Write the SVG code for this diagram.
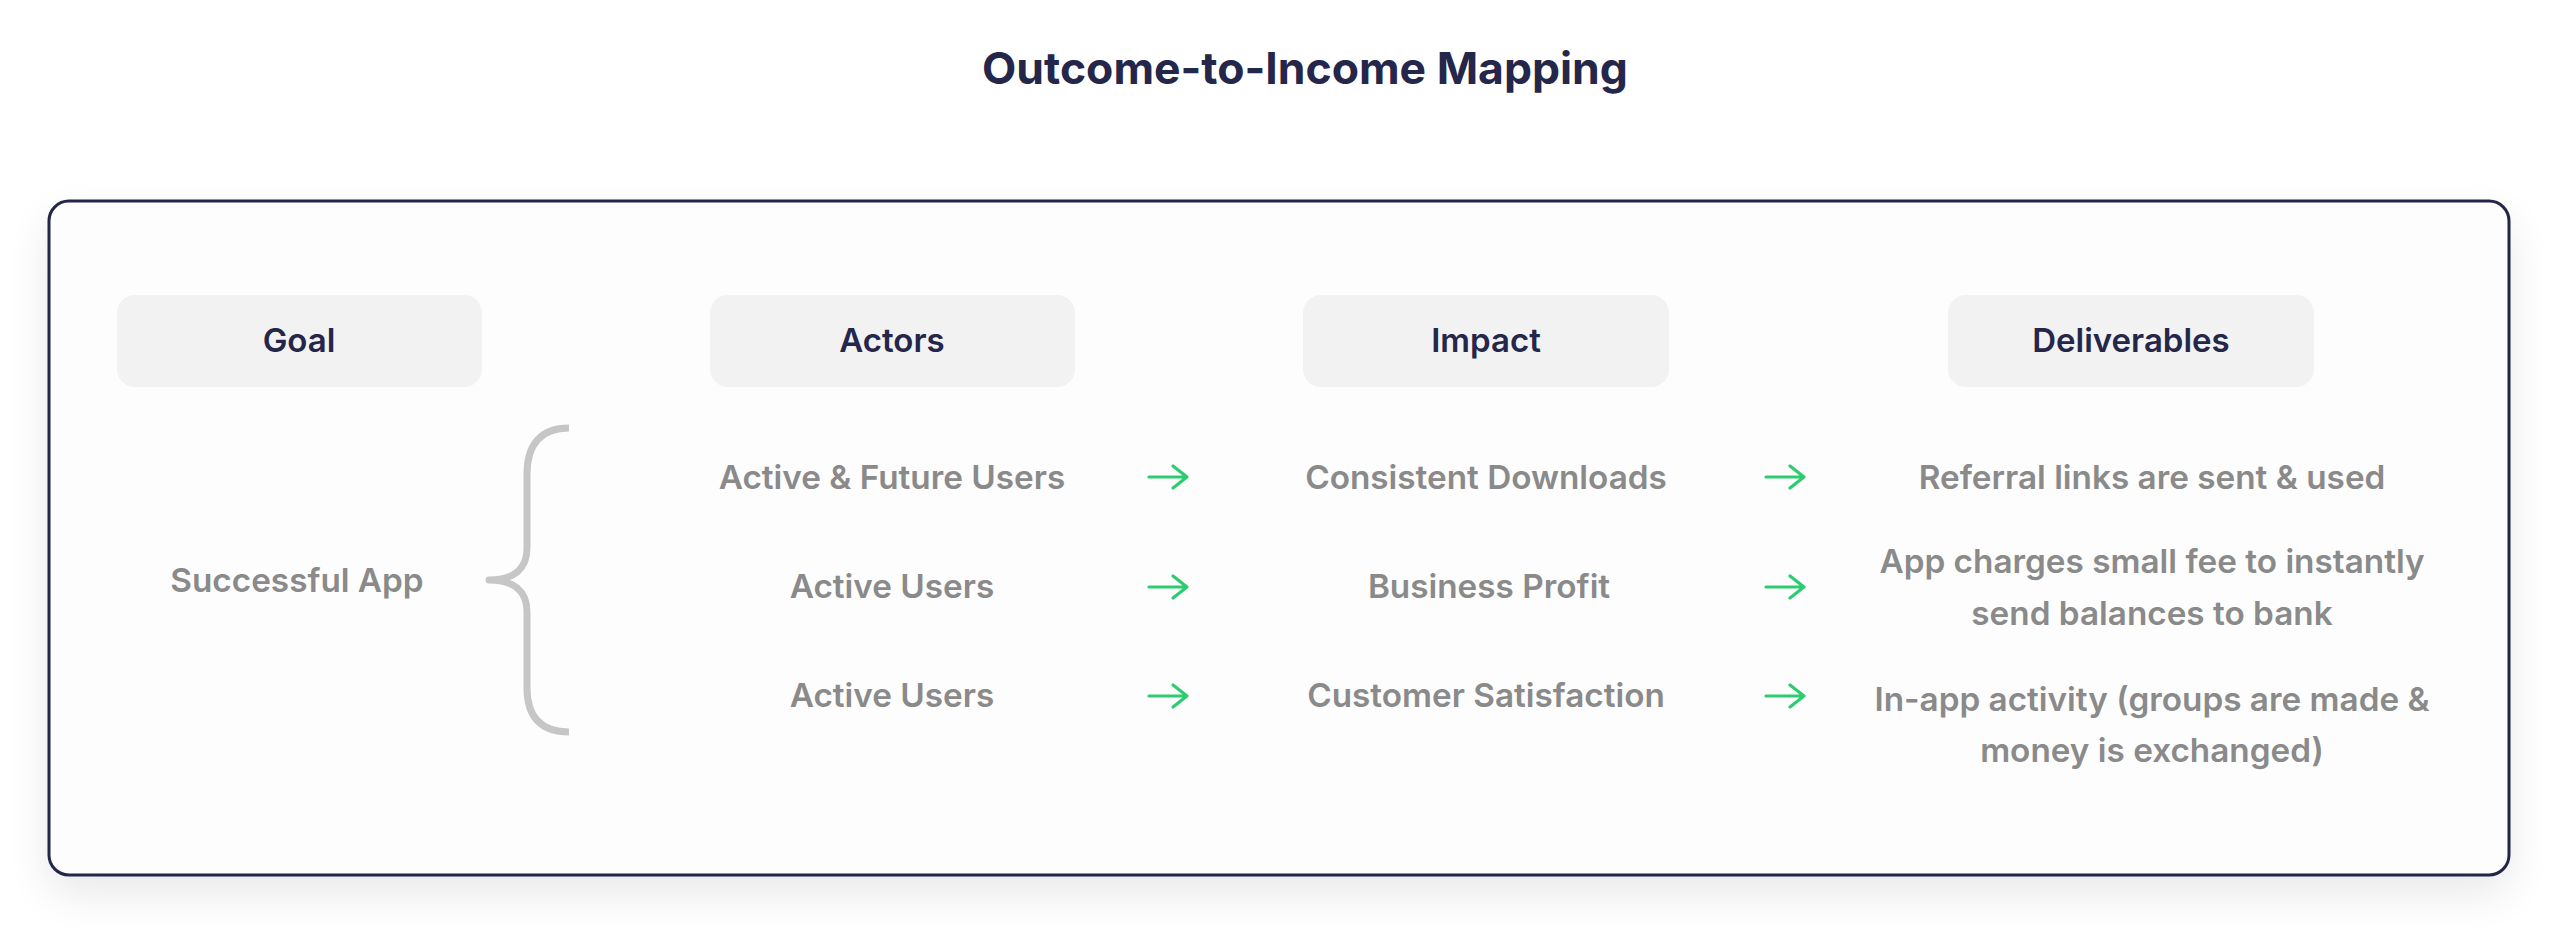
<svg xmlns="http://www.w3.org/2000/svg" width="2560" height="944" viewBox="0 0 2560 944">
  <style>
    .title { font-family: Inter, "Noto Sans", "Liberation Sans", sans-serif; font-size: 44.5px; font-weight: 700; fill: #24264a; text-anchor: middle; }
    .head { font-family: Inter, "Noto Sans", "Liberation Sans", sans-serif; font-size: 33px; font-weight: 600; fill: #24264a; text-anchor: middle; }
    .body { font-family: Inter, "Noto Sans", "Liberation Sans", sans-serif; font-size: 33.3px; font-weight: 600; fill: #8a8a8a; text-anchor: middle; }
    .pill { fill: #f2f2f3; }
    .arrow { fill: none; stroke: #2ecc71; stroke-width: 3.2; stroke-linecap: round; stroke-linejoin: round; }
    .brace { fill: none; stroke: #c6c6c6; stroke-width: 7; stroke-linecap: butt; stroke-linejoin: round; }
  </style>
  <defs>
    <filter id="shadow" x="-10%" y="-30%" width="120%" height="170%">
      <feGaussianBlur in="SourceAlpha" stdDeviation="22"/>
      <feOffset dy="18" result="b"/>
      <feComponentTransfer><feFuncA type="linear" slope="0.09"/></feComponentTransfer>
      <feMerge><feMergeNode/><feMergeNode in="SourceGraphic"/></feMerge>
    </filter>
    <g id="arr">
      <path class="arrow" d="M0 0 H38 M24 -11 L38 0 L24 11"/>
    </g>
  </defs>
  <rect width="2560" height="944" fill="#ffffff"/>

  <g id="title">
    <text class="title" x="1305" y="84">Outcome-to-Income Mapping</text>
  </g>

  <g id="frame">
    <rect x="49" y="201" width="2460" height="674" rx="20" fill="#fdfdfd" stroke="#23254a" stroke-width="3" filter="url(#shadow)"/>
  </g>

  <g id="goal-header">
    <rect class="pill" x="117" y="295" width="365" height="92" rx="18"/>
    <text class="head" x="299" y="352">Goal</text>
  </g>
  <g id="actors-header">
    <rect class="pill" x="710" y="295" width="365" height="92" rx="18"/>
    <text class="head" x="892" y="352">Actors</text>
  </g>
  <g id="impact-header">
    <rect class="pill" x="1303" y="295" width="366" height="92" rx="18"/>
    <text class="head" x="1486" y="352">Impact</text>
  </g>
  <g id="deliverables-header">
    <rect class="pill" x="1948" y="295" width="366" height="92" rx="18"/>
    <text class="head" x="2131" y="352">Deliverables</text>
  </g>

  <g id="goal">
    <text class="body" x="297" y="592">Successful App</text>
  </g>

  <g id="brace">
    <path class="brace" d="M569 428 C541 428 527 444 527 474 L527 548 C527 569 514 580 489 580 C514 580 527 591 527 612 L527 688 C527 717 541 732 569 732"/>
  </g>

  <g id="actor-1"><text class="body" x="892" y="489">Active &amp; Future Users</text></g>
  <g id="actor-2"><text class="body" x="892" y="598">Active Users</text></g>
  <g id="actor-3"><text class="body" x="892" y="707">Active Users</text></g>

  <g id="impact-1"><text class="body" x="1486" y="489">Consistent Downloads</text></g>
  <g id="impact-2"><text class="body" x="1489" y="598">Business Profit</text></g>
  <g id="impact-3"><text class="body" x="1486" y="707">Customer Satisfaction</text></g>

  <g id="deliverable-1"><text class="body" x="2152" y="489">Referral links are sent &amp; used</text></g>
  <g id="deliverable-2">
    <text class="body" x="2152" y="573">App charges small fee to instantly</text>
    <text class="body" x="2152" y="625">send balances to bank</text>
  </g>
  <g id="deliverable-3">
    <text class="body" x="2152" y="711">In-app activity (groups are made &amp;</text>
    <text class="body" x="2152" y="762">money is exchanged)</text>
  </g>

  <g id="connectors">
    <use href="#arr" x="1149" y="477"/>
    <use href="#arr" x="1149" y="587"/>
    <use href="#arr" x="1149" y="696"/>
    <use href="#arr" x="1766" y="477"/>
    <use href="#arr" x="1766" y="587"/>
    <use href="#arr" x="1766" y="696"/>
  </g>
</svg>
